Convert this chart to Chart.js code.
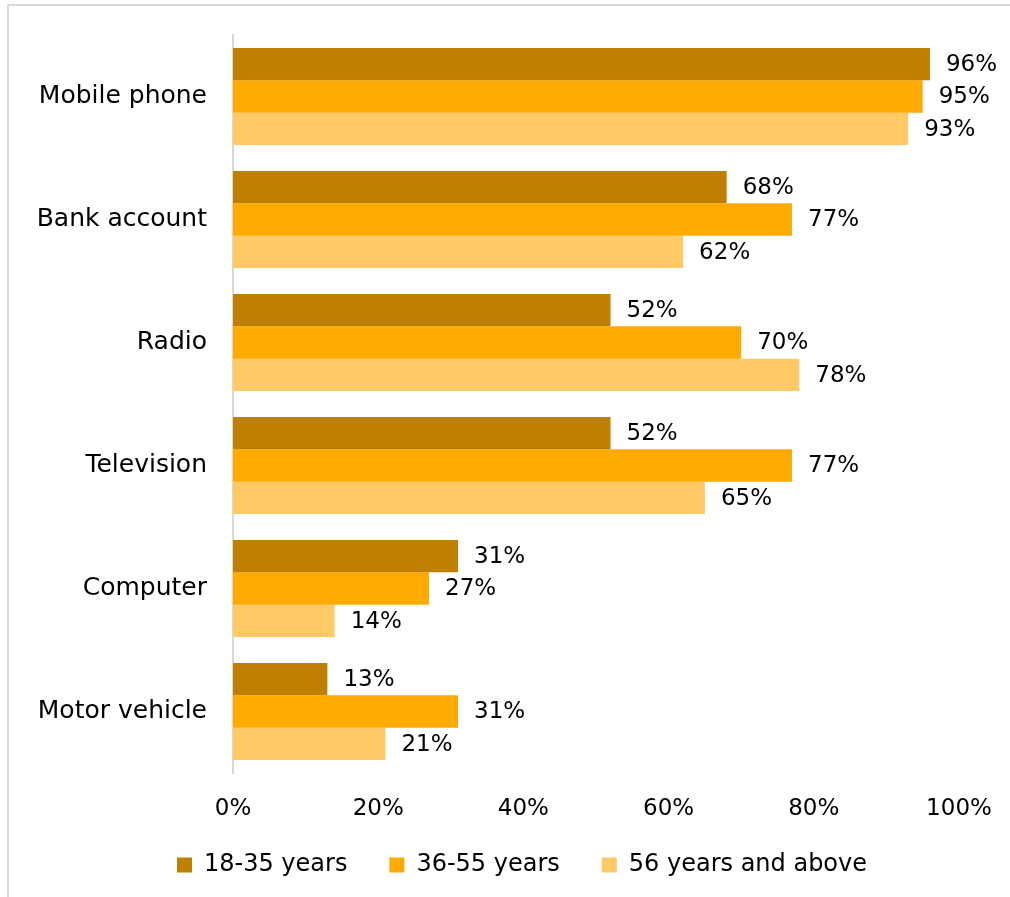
<!DOCTYPE html>
<html>
<head>
<meta charset="utf-8">
<script src="https://cdn.jsdelivr.net/npm/chart.js@4"></script>
<style>
    html, body { margin: 0; padding: 0; background: #fff; }
    #frame {
        position: absolute; left: 7px; top: 4px; width: 1010px; height: 900px;
        border-left: 2px solid #d9d9d9; border-top: 2px solid #d9d9d9;
    }
    #wrap { position: absolute; left: 0; top: 0; width: 1010px; height: 897px; }
</style>
</head>
<body>
<div id="frame"></div>
<div id="wrap"><canvas id="chart" width="1010" height="897"></canvas></div>
<script>
'use strict';

// Ownership by age group (percent of respondents)
const categories = ['Mobile phone', 'Bank account', 'Radio', 'Television', 'Computer', 'Motor vehicle'];
const ageGroups = ['18-35 years', '36-55 years', '56 years and above'];
const young = [96, 68, 52, 52, 31, 13];
const middle = [95, 77, 70, 77, 27, 31];
const older = [93, 62, 78, 65, 14, 21];
const xTicks = [0, 20, 40, 60, 80, 100];

const colors = ['#BF7F00', '#FFAA00', '#FFCA66'];
const FONT = 'DejaVu Sans';

// writes the value at the end of every bar
const barValues = {
    id: 'barValues',
    afterDatasetsDraw(chart) {
        const ctx = chart.ctx;
        ctx.save();
        ctx.font = `23px "${FONT}"`;
        ctx.fillStyle = '#000';
        ctx.textAlign = 'left';
        ctx.textBaseline = 'middle';
        chart.data.datasets.forEach((ds, i) => {
            chart.getDatasetMeta(i).data.forEach((bar, j) => {
                ctx.fillText(ds.data[j] + '%', bar.x + 16, bar.y + 1);
            });
        });
        ctx.restore();
    }
};

// centre the legend under the plot and pin its row near the bottom
const legendShift = {
    id: 'legendShift',
    afterLayout(chart) {
        const lg = chart.legend;
        if (!lg) return;
        lg.left = 85;
        lg.right = 959;
        lg.width = lg.right - lg.left;
        lg.top = 811;
        lg.bottom = lg.top + lg.height;
        lg.adjustHitBoxes();
    }
};

new Chart(document.getElementById('chart'), {
    type: 'bar',
    data: {
        labels: categories,
        datasets: [young, middle, older].map((values, i) => ({
            label: ageGroups[i],
            data: values,
            backgroundColor: colors[i],
            borderWidth: 0,
            barPercentage: 1,
            categoryPercentage: 0.789
        }))
    },
    options: {
        indexAxis: 'y',
        responsive: false,
        animation: false,
        layout: { padding: { top: 35, right: 51, left: 0, bottom: -4 } },
        scales: {
            x: {
                min: 0,
                max: 100,
                afterBuildTicks: scale => { scale.ticks = xTicks.map(v => ({ value: v })); },
                afterFit: scale => {
                    scale.height = 52;
                    scale.paddingLeft = 0;
                    scale.paddingRight = 0;
                },
                grid: { display: false, drawTicks: false },
                border: { display: false },
                ticks: {
                    padding: 22,
                    color: '#000',
                    font: { family: FONT, size: 23 },
                    callback: v => v + '%'
                }
            },
            y: {
                afterFit: scale => {
                    scale.width = 233;
                    scale.paddingTop = 0;
                    scale.paddingBottom = 0;
                },
                grid: { display: false, drawTicks: false },
                border: { display: true, color: '#d9d9d9', width: 2 },
                ticks: {
                    padding: 26,
                    color: '#000',
                    font: { family: FONT, size: 25 }
                }
            }
        },
        plugins: {
            legend: {
                position: 'bottom',
                labels: {
                    boxWidth: 15,
                    boxHeight: 15,
                    padding: 42,
                    color: '#000',
                    font: { family: FONT, size: 24 }
                }
            },
            tooltip: { enabled: false }
        }
    },
    plugins: [barValues, legendShift]
});
</script>
</body>
</html>
